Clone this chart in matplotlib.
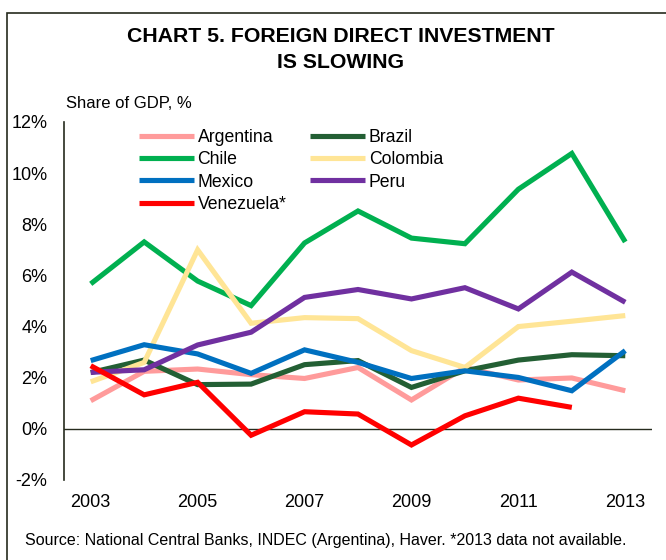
"""
FDI inflows as share of GDP for seven Latin American economies, 2003-2013.
"""

import matplotlib.pyplot as plt
from matplotlib.patches import Rectangle

plt.rcParams["font.family"] = ["Liberation Sans", "DejaVu Sans"]

YEARS = list(range(2003, 2014))

ARGENTINA = [1.10, 2.25, 2.34, 2.12, 1.97, 2.40, 1.13, 2.40, 1.91, 1.99, 1.49]
BRAZIL = [2.20, 2.69, 1.73, 1.75, 2.51, 2.67, 1.62, 2.27, 2.69, 2.90, 2.86]
CHILE = [5.67, 7.31, 5.78, 4.82, 7.27, 8.52, 7.46, 7.24, 9.37, 10.77, 7.31]
COLOMBIA = [1.84, 2.60, 7.00, 4.13, 4.35, 4.31, 3.06, 2.40, 4.00, 4.21, 4.43]
MEXICO = [2.67, 3.29, 2.93, 2.17, 3.09, 2.60, 1.97, 2.27, 2.01, 1.49, 3.06]
PERU = [2.21, 2.31, 3.28, 3.78, 5.14, 5.45, 5.08, 5.52, 4.69, 6.13, 4.95]
# no 2013 figure for Venezuela
VENEZUELA = [2.47, 1.33, 1.82, -0.25, 0.67, 0.58, -0.63, 0.51, 1.20, 0.84]

SERIES = [
    ("Argentina", ARGENTINA, "#ff9b9b"),
    ("Brazil", BRAZIL, "#235f34"),
    ("Chile", CHILE, "#00b050"),
    ("Colombia", COLOMBIA, "#ffe596"),
    ("Mexico", MEXICO, "#0070c0"),
    ("Peru", PERU, "#7030a0"),
    ("Venezuela*", VENEZUELA, "#ff0000"),
]

Y_TICKS = [-2, 0, 2, 4, 6, 8, 10, 12]
X_TICKS = [2003, 2005, 2007, 2009, 2011, 2013]

W, H = 666, 560
fig = plt.figure(figsize=(W / 100, H / 100), dpi=100)
ax = fig.add_axes([64 / W, 1 - 480 / H, (652 - 64) / W, (480 - 122) / H])

lines = {}
for name, vals, color in SERIES:
    (ln,) = ax.plot(YEARS[: len(vals)], vals, color=color, lw=3.7,
                    solid_joinstyle="miter", solid_capstyle="butt", label=name)
    lines[name] = ln

ax.set_xlim(2002.5, 2013.5)
ax.set_ylim(-2, 12)
ax.set_xticks(X_TICKS)
ax.set_xticklabels([str(y) for y in X_TICKS])
ax.set_yticks(Y_TICKS)
ax.set_yticklabels([f"{v}%" for v in Y_TICKS])
ax.tick_params(axis="both", length=0, labelsize=13, colors="#000000")
ax.tick_params(axis="y", pad=12)
ax.tick_params(axis="x", pad=10)

for side in ("top", "right", "bottom"):
    ax.spines[side].set_visible(False)
ax.spines["left"].set_color("#262b1e")
ax.spines["left"].set_linewidth(1.2)
ax.axhline(0, color="#262b1e", lw=1.0, zorder=1)

# row-major legend: matplotlib fills columns first
order = ["Argentina", "Chile", "Mexico", "Venezuela*", "Brazil", "Colombia", "Peru"]
ax.legend([lines[n] for n in order], order, ncol=2, frameon=False,
          loc="upper left", bbox_to_anchor=(139 / W, 1 - 129 / H),
          bbox_transform=fig.transFigure, fontsize=12.7,
          handlelength=3.1, handletextpad=0.22, labelspacing=0.3,
          columnspacing=1.35, borderaxespad=0, borderpad=0)

fig.text(341 / W, 1 - 37 / H, "CHART 5. FOREIGN DIRECT INVESTMENT",
         ha="center", va="center", fontsize=15.3, fontweight="bold")
fig.text(341 / W, 1 - 62 / H, "IS SLOWING",
         ha="center", va="center", fontsize=15.3, fontweight="bold")
fig.text(66 / W, 1 - 104 / H, "Share of GDP, %", ha="left", va="center",
         fontsize=12)
fig.text(25 / W, 1 - 541 / H,
         "Source: National Central Banks, INDEC (Argentina), Haver. "
         "*2013 data not available.",
         ha="left", va="center", fontsize=11.5)

# outer frame, open to the right and bottom edges
fig.patches.append(Rectangle((7 / W, -0.1), 1.2, 1 - 13 / H + 0.1,
                             transform=fig.transFigure, fill=False,
                             edgecolor="#262b1e", lw=1.2))

fig.savefig("out.png", dpi=100)
